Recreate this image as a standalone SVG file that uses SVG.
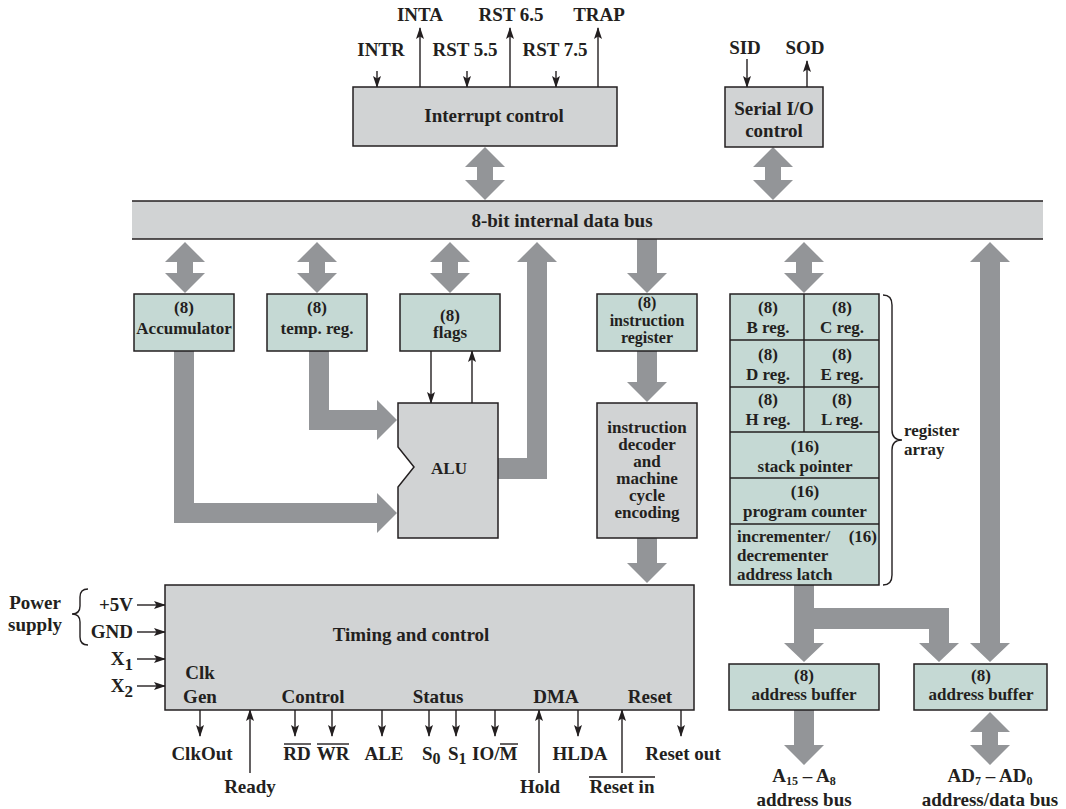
<svg xmlns="http://www.w3.org/2000/svg" width="1066" height="809" viewBox="0 0 1066 809">
<style>
text{font-family:"Liberation Serif","Times New Roman",serif;font-weight:bold;fill:#231f20;font-size:19px}
.s{font-size:17px}
.t{font-size:16px}
.m{text-anchor:middle}
.e{text-anchor:end}
.gray{fill:#d1d3d4;stroke:#231f20;stroke-width:1.5}
.teal{fill:#c5d9d4;stroke:#231f20;stroke-width:1.5}
.big{fill:#939598;stroke:none}
.thin{stroke:#231f20;stroke-width:1.4;fill:none;marker-end:url(#ah)}
.ln{stroke:#231f20;stroke-width:1.4;fill:none}
</style>
<defs>
<marker id="ah" markerUnits="userSpaceOnUse" markerWidth="12" markerHeight="8" refX="11" refY="4" orient="auto">
<path d="M0,0 L12,4 L0,8 L2.5,4 z" fill="#231f20"/>
</marker>
</defs>

<g id="connectors">
<polygon class="big" points="485,147 505,167 493,167 493,180 505,180 485,200 465,180 477,180 477,167 465,167"/>
<polygon class="big" points="773,147 793,167 781,167 781,180 793,180 773,200 753,180 765,180 765,167 753,167"/>
<polygon class="big" points="185,242 205,262 193,262 193,273 205,273 185,293 165,273 177,273 177,262 165,262"/>
<polygon class="big" points="317,242 337,262 325,262 325,273 337,273 317,293 297,273 309,273 309,262 297,262"/>
<polygon class="big" points="450,242 470,262 458,262 458,273 470,273 450,293 430,273 442,273 442,262 430,262"/>
<polygon class="big" points="804,242 824,262 812,262 812,273 824,273 804,293 784,273 796,273 796,262 784,262"/>
<polygon class="big" points="990,712 1010,732 998,732 998,745 1010,745 990,765 970,745 982,745 982,732 970,732"/>
<polygon class="big" points="990,242 1010,262 1000,262 1000,643 1010,643 990,662 970,643 980,643 980,262 970,262"/>
<polygon class="big" points="637,239 657,239 657,273 667,273 647,293 627,273 637,273"/>
<polygon class="big" points="637,351 657,351 657,382 667,382 647,402 627,382 637,382"/>
<polygon class="big" points="637,538 657,538 657,563 667,563 647,583 627,563 637,563"/>
<polygon class="big" points="498,458 527,458 527,262 517,262 537,242 557,262 547,262 547,479 498,479"/>
<polygon class="big" points="309,351 329,351 329,410 377,410 377,400 397,420 377,440 377,430 309,430"/>
<polygon class="big" points="174,351 194,351 194,503 377,503 377,493 397,513 377,533 377,523 174,523"/>
<polygon class="big" points="794,585 814,585 814,608 949,608 949,643 959,643 939,662 919,643 929,643 929,629 814,629 814,643 824,643 804,662 784,643 794,643"/>
<polygon class="big" points="794,710 814,710 814,745 824,745 804,765 784,745 794,745"/>
<line class="thin" x1="377" y1="71" x2="377" y2="87"/>
<line class="thin" x1="420" y1="87" x2="420" y2="28"/>
<line class="thin" x1="467" y1="71" x2="467" y2="87"/>
<line class="thin" x1="510" y1="87" x2="510" y2="28"/>
<line class="thin" x1="556" y1="71" x2="556" y2="87"/>
<line class="thin" x1="598" y1="87" x2="598" y2="28"/>
<line class="thin" x1="747" y1="59" x2="747" y2="87"/>
<line class="thin" x1="807" y1="87" x2="807" y2="61"/>
<line class="thin" x1="431" y1="351" x2="431" y2="403"/>
<line class="thin" x1="472" y1="403" x2="472" y2="351"/>
<line class="thin" x1="137" y1="605" x2="165" y2="605"/>
<line class="thin" x1="137" y1="632" x2="165" y2="632"/>
<line class="thin" x1="137" y1="659" x2="165" y2="659"/>
<line class="thin" x1="137" y1="686" x2="165" y2="686"/>
<line class="thin" x1="200" y1="710" x2="200" y2="736"/>
<line class="thin" x1="250" y1="773" x2="250" y2="710"/>
<line class="thin" x1="295" y1="710" x2="295" y2="736"/>
<line class="thin" x1="332" y1="710" x2="332" y2="736"/>
<line class="thin" x1="382" y1="710" x2="382" y2="736"/>
<line class="thin" x1="429" y1="710" x2="429" y2="736"/>
<line class="thin" x1="456" y1="710" x2="456" y2="736"/>
<line class="thin" x1="495" y1="710" x2="495" y2="736"/>
<line class="thin" x1="539" y1="773" x2="539" y2="710"/>
<line class="thin" x1="578" y1="710" x2="578" y2="736"/>
<line class="thin" x1="622" y1="773" x2="622" y2="710"/>
<line class="thin" x1="681" y1="710" x2="681" y2="736"/>
</g>

<g id="bus">
<rect x="132" y="201" width="911" height="38" fill="#d1d3d4"/>
<line class="ln" x1="132" y1="201" x2="1043" y2="201"/>
<line class="ln" x1="132" y1="239" x2="1043" y2="239"/>
<text class="m" x="562" y="227">8-bit internal data bus</text>
</g>

<g id="interrupt">
<rect class="gray" x="353" y="87" width="264" height="59"/>
<text class="m" x="494" y="122">Interrupt control</text>
</g>
<g id="interrupt-labels">
<text class="m" x="420" y="21">INTA</text>
<text class="m" x="511" y="21">RST 6.5</text>
<text class="m" x="599" y="21">TRAP</text>
<text class="m" x="381" y="56">INTR</text>
<text class="m" x="465" y="56">RST 5.5</text>
<text class="m" x="555" y="56">RST 7.5</text>
</g>

<g id="serial">
<rect class="gray" x="725" y="87" width="98" height="60"/>
<text class="m" x="774" y="115">Serial I/O</text>
<text class="m" x="774" y="137">control</text>
<text class="m" x="745" y="54">SID</text>
<text class="m" x="805" y="54">SOD</text>
</g>

<g id="accumulator">
<rect class="teal" x="134" y="294" width="100" height="57"/>
<text class="m s" x="184" y="313">(8)</text>
<text class="m s" x="184" y="334">Accumulator</text>
</g>
<g id="temp">
<rect class="teal" x="267" y="294" width="100" height="57"/>
<text class="m s" x="317" y="313">(8)</text>
<text class="m s" x="317" y="334">temp. reg.</text>
</g>
<g id="flags">
<rect class="teal" x="400" y="294" width="100" height="57"/>
<text class="m s" x="450" y="321">(8)</text>
<text class="m s" x="450" y="338">flags</text>
</g>
<g id="alu">
<path class="gray" d="M398,403 L498,403 L498,538 L398,538 L398,487 L414,467 L398,447 Z"/>
<text class="m s" x="449" y="474">ALU</text>
</g>

<g id="instruction-register">
<rect class="teal" x="597" y="294" width="100" height="57"/>
<text class="m t" x="647" y="308">(8)</text>
<text class="m t" x="647" y="325.5">instruction</text>
<text class="m t" x="647" y="343">register</text>
</g>
<g id="decoder">
<rect class="gray" x="597" y="403" width="100" height="135"/>
<text class="m s" x="647" y="433">instruction</text>
<text class="m s" x="647" y="450">decoder</text>
<text class="m s" x="647" y="467">and</text>
<text class="m s" x="647" y="484">machine</text>
<text class="m s" x="647" y="501">cycle</text>
<text class="m s" x="647" y="518">encoding</text>
</g>

<g id="register-array">
<rect class="teal" x="730" y="294" width="149" height="291"/>
<line class="ln" x1="730" y1="340" x2="879" y2="340"/>
<line class="ln" x1="730" y1="387" x2="879" y2="387"/>
<line class="ln" x1="730" y1="432" x2="879" y2="432"/>
<line class="ln" x1="730" y1="478" x2="879" y2="478"/>
<line class="ln" x1="730" y1="524" x2="879" y2="524"/>
<line class="ln" x1="804" y1="294" x2="804" y2="432"/>
<text class="m s" x="768" y="313">(8)</text>
<text class="m s" x="768" y="333">B reg.</text>
<text class="m s" x="842" y="313">(8)</text>
<text class="m s" x="842" y="333">C reg.</text>
<text class="m s" x="768" y="360">(8)</text>
<text class="m s" x="768" y="380">D reg.</text>
<text class="m s" x="842" y="360">(8)</text>
<text class="m s" x="842" y="380">E reg.</text>
<text class="m s" x="768" y="405">(8)</text>
<text class="m s" x="768" y="425">H reg.</text>
<text class="m s" x="842" y="405">(8)</text>
<text class="m s" x="842" y="425">L reg.</text>
<text class="m s" x="805" y="452">(16)</text>
<text class="m s" x="805" y="472">stack pointer</text>
<text class="m s" x="805" y="497">(16)</text>
<text class="m s" x="805" y="517">program counter</text>
<text class="s" x="737" y="542">incrementer/</text>
<text class="s e" x="877" y="542">(16)</text>
<text class="s" x="737" y="561">decrementer</text>
<text class="s" x="737" y="580">address latch</text>
<path class="ln" d="M883,295 Q892,295 892,305 L892,430 Q892,440 902,440 Q892,440 892,450 L892,575 Q892,585 883,585"/>
<text class="s" x="904" y="436">register</text>
<text class="s" x="904" y="455">array</text>
</g>

<g id="address-buffer-1">
<rect class="teal" x="729" y="664" width="150" height="46"/>
<text class="m s" x="804" y="681">(8)</text>
<text class="m s" x="804" y="700">address buffer</text>
</g>
<g id="address-buffer-2">
<rect class="teal" x="914" y="664" width="133" height="46"/>
<text class="m s" x="981" y="681">(8)</text>
<text class="m s" x="981" y="700">address buffer</text>
</g>
<g id="bus-labels">
<text class="m" x="804" y="782">A<tspan font-size="12" dy="3">15</tspan><tspan dy="-3"> – A</tspan><tspan font-size="12" dy="3">8</tspan></text>
<text class="m" x="804" y="806">address bus</text>
<text class="m" x="990" y="782">AD<tspan font-size="12" dy="3">7</tspan><tspan dy="-3"> – AD</tspan><tspan font-size="12" dy="3">0</tspan></text>
<text class="m" x="990" y="806">address/data bus</text>
</g>

<g id="timing">
<rect class="gray" x="165" y="585" width="529" height="125"/>
<text class="m" x="411" y="641">Timing and control</text>
<text class="m" x="200" y="679">Clk</text>
<text class="m" x="200" y="703">Gen</text>
<text class="m" x="313" y="703">Control</text>
<text class="m" x="438" y="703">Status</text>
<text class="m" x="556" y="703">DMA</text>
<text class="m" x="650" y="703">Reset</text>
</g>

<g id="power">
<text class="m" x="35" y="609">Power</text>
<text class="m" x="35" y="631">supply</text>
<path class="ln" d="M88,589 Q80,589 80,597 L80,606 Q80,614 72,614 Q80,614 80,622 L80,637 Q80,645 88,645"/>
<text class="e" x="133" y="611">+5V</text>
<text class="e" x="133" y="638">GND</text>
<text class="e" x="133" y="665">X<tspan font-size="17" dy="5">1</tspan></text>
<text class="e" x="133" y="692">X<tspan font-size="17" dy="5">2</tspan></text>
</g>

<g id="signal-labels">
<text class="m" x="202" y="760">ClkOut</text>
<text class="m" x="250" y="793">Ready</text>
<text class="m" x="297" y="760">RD</text>
<line class="ln" x1="284" y1="744" x2="311" y2="744"/>
<text class="m" x="333" y="760">WR</text>
<line class="ln" x1="317" y1="744" x2="349" y2="744"/>
<text class="m" x="384" y="760">ALE</text>
<text x="422" y="760">S<tspan font-size="16" dy="4">0</tspan></text>
<text x="448" y="760">S<tspan font-size="16" dy="4">1</tspan></text>
<text x="472" y="760">IO/M</text>
<line class="ln" x1="500" y1="744" x2="518" y2="744"/>
<text class="m" x="540" y="793">Hold</text>
<text class="m" x="580" y="760">HLDA</text>
<text class="m" x="622" y="793">Reset in</text>
<line class="ln" x1="589" y1="777" x2="655" y2="777"/>
<text class="m" x="683" y="760">Reset out</text>
</g>
</svg>
